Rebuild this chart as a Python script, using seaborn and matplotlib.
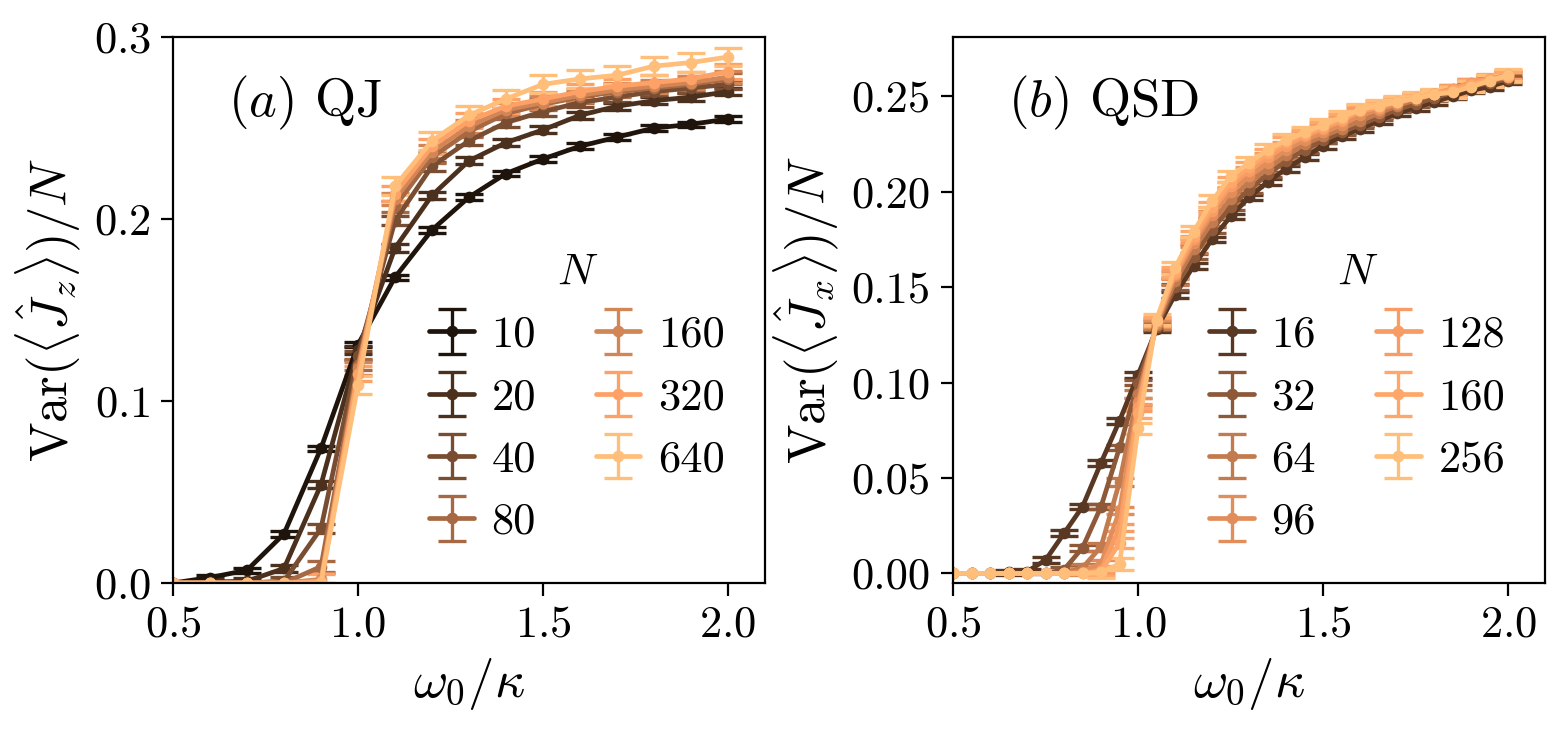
import numpy as np
import seaborn as sns
import matplotlib.pyplot as plt

# omega_0 / kappa grids
x_qj = [0.5, 0.6, 0.7, 0.8, 0.9, 1.0, 1.1, 1.2, 1.3, 1.4, 1.5, 1.6, 1.7, 1.8, 1.9, 2.0]
x_qsd = [0.5, 0.55, 0.6, 0.65, 0.7, 0.75, 0.8, 0.85, 0.9, 0.95, 1.0, 1.05, 1.1, 1.15, 1.2, 1.25,
         1.3, 1.35, 1.4, 1.45, 1.5, 1.55, 1.6, 1.65, 1.7, 1.75, 1.8, 1.85, 1.9, 1.95, 2.0]

# (a) quantum jumps
n_qj = [10, 20, 40, 80, 160, 320, 640]
var_qj_10 = [0, 0.003, 0.007, 0.027, 0.074, 0.131, 0.168, 0.194, 0.212, 0.225, 0.233, 0.240, 0.245, 0.250, 0.252, 0.255]
var_qj_20 = [0, 0.0005, 0.001, 0.008, 0.054, 0.128, 0.184, 0.213, 0.232, 0.242, 0.249, 0.257, 0.262, 0.265, 0.267, 0.270]
var_qj_40 = [0, 0, 0, 0.001, 0.030, 0.125, 0.199, 0.229, 0.243, 0.253, 0.259, 0.264, 0.267, 0.270, 0.272, 0.274]
var_qj_80 = [0, 0, 0, 0, 0.009, 0.120, 0.207, 0.234, 0.248, 0.258, 0.263, 0.267, 0.270, 0.272, 0.274, 0.277]
var_qj_160 = [0, 0, 0, 0, 0.002, 0.118, 0.211, 0.237, 0.251, 0.260, 0.264, 0.268, 0.271, 0.273, 0.275, 0.278]
var_qj_320 = [0, 0, 0, 0, 0.001, 0.115, 0.214, 0.240, 0.254, 0.262, 0.266, 0.270, 0.273, 0.275, 0.277, 0.281]
var_qj_640 = [0, 0, 0, 0, 0, 0.109, 0.218, 0.243, 0.257, 0.266, 0.274, 0.277, 0.279, 0.284, 0.286, 0.289]
err_qj = [0.0015, 0.002, 0.0025, 0.003, 0.0035, 0.004, 0.005]

# (b) quantum state diffusion
n_qsd = [16, 32, 64, 96, 128, 160, 256]
var_qsd_16 = [0, 0, 0, 0.0005, 0.001, 0.007, 0.021, 0.035, 0.058, 0.080, 0.104, 0.128, 0.146, 0.161, 0.175, 0.187,
              0.197, 0.205, 0.212, 0.218, 0.224, 0.229, 0.233, 0.237, 0.241, 0.244, 0.247, 0.250, 0.253, 0.255, 0.258]
var_qsd_32 = [0, 0, 0, 0, 0, 0, 0.002, 0.0135, 0.035, 0.066, 0.100, 0.129, 0.150, 0.166, 0.180, 0.192,
              0.201, 0.209, 0.216, 0.222, 0.227, 0.231, 0.235, 0.239, 0.243, 0.246, 0.249, 0.252, 0.255, 0.257, 0.259]
var_qsd_64 = [0, 0, 0, 0, 0, 0, 0, 0.003, 0.014, 0.048, 0.094, 0.130, 0.153, 0.170, 0.184, 0.196,
              0.205, 0.212, 0.219, 0.225, 0.229, 0.233, 0.237, 0.241, 0.245, 0.248, 0.251, 0.253, 0.256, 0.258, 0.260]
var_qsd_96 = [0, 0, 0, 0, 0, 0, 0, 0.001, 0.005, 0.033, 0.090, 0.131, 0.156, 0.173, 0.188, 0.200,
              0.208, 0.215, 0.222, 0.227, 0.231, 0.235, 0.240, 0.243, 0.246, 0.249, 0.251, 0.254, 0.257, 0.259, 0.261]
var_qsd_128 = [0, 0, 0, 0, 0, 0, 0, 0, 0.002, 0.024, 0.087, 0.132, 0.157, 0.175, 0.190, 0.203,
               0.211, 0.218, 0.224, 0.229, 0.233, 0.237, 0.242, 0.244, 0.247, 0.249, 0.251, 0.254, 0.257, 0.259, 0.261]
var_qsd_160 = [0, 0, 0, 0, 0, 0, 0, 0, 0.001, 0.016, 0.084, 0.132, 0.158, 0.177, 0.192, 0.205,
               0.213, 0.220, 0.226, 0.230, 0.234, 0.238, 0.243, 0.245, 0.247, 0.249, 0.251, 0.253, 0.256, 0.259, 0.260]
var_qsd_256 = [0, 0, 0, 0, 0, 0, 0, 0, 0.0005, 0.005, 0.076, 0.133, 0.160, 0.179, 0.195, 0.208,
               0.215, 0.222, 0.227, 0.231, 0.235, 0.239, 0.243, 0.245, 0.247, 0.249, 0.251, 0.252, 0.255, 0.258, 0.261]
err_qsd = [0.0015, 0.0015, 0.002, 0.002, 0.002, 0.0025, 0.003]

sns.set_style("ticks")
plt.rcParams['font.family'] = 'serif'
plt.rcParams['font.serif'] = ['cmr10', 'DejaVu Serif']
plt.rcParams['mathtext.fontset'] = 'cm'
plt.rcParams['axes.formatter.use_mathtext'] = True
plt.rcParams['axes.unicode_minus'] = False
for key in ['text.color', 'axes.labelcolor', 'xtick.color', 'ytick.color', 'axes.edgecolor']:
    plt.rcParams[key] = 'black'

copper = sns.color_palette("copper", as_cmap=True)
colors_qj = [copper(v) for v in np.linspace(0.1, 0.95, 7)]
colors_qsd = [copper(0.28 + (np.log2(n) - 4) * 0.1675) for n in n_qsd]

fig, axes = plt.subplots(1, 2, figsize=(7.82, 3.645), dpi=200)
fig.subplots_adjust(left=0.1106, right=0.9879, bottom=0.2003, top=0.9492, wspace=0.3176)

FS = 16


def draw_panel(ax, x, series, ns, errs, colors):
    for y, n, e, c in zip(series, ns, errs, colors):
        y = np.asarray(y)
        # no visible bars where the variance is exactly zero
        yerr = np.where(y > 0, e, 0.0)
        ax.errorbar(x, y, yerr=yerr, color=c, marker='o', ms=3.2, lw=1.7,
                    elinewidth=1.2, capsize=5, capthick=1.2, label=str(n))
    ax.set_xlim(0.5, 2.1)
    ax.set_xticks([0.5, 1.0, 1.5, 2.0])
    ax.set_xlabel(r'$\omega_0/\kappa$', fontsize=19)
    ax.tick_params(labelsize=FS, length=4.5)
    leg = ax.legend(title=r'$N$', ncol=2, frameon=False, fontsize=FS, title_fontsize=FS,
                    loc='lower right', bbox_to_anchor=(1.0, 0.0), handlelength=1.0,
                    handletextpad=0.4, columnspacing=1.35, labelspacing=0.5)
    return leg


draw_panel(axes[0], x_qj,
           [var_qj_10, var_qj_20, var_qj_40, var_qj_80, var_qj_160, var_qj_320, var_qj_640],
           n_qj, err_qj, colors_qj)
axes[0].set_ylim(0, 0.3)
axes[0].set_yticks([0.0, 0.1, 0.2, 0.3])
axes[0].set_ylabel(r'$\mathrm{Var}(\langle \hat{J}_z \rangle)/N$', fontsize=19)
axes[0].text(0.093, 0.88, r'$(a)$ QJ', transform=axes[0].transAxes, fontsize=19, va='center')

draw_panel(axes[1], x_qsd,
           [var_qsd_16, var_qsd_32, var_qsd_64, var_qsd_96, var_qsd_128, var_qsd_160, var_qsd_256],
           n_qsd, err_qsd, colors_qsd)
axes[1].set_ylim(-0.005, 0.281)
axes[1].set_yticks([0.0, 0.05, 0.10, 0.15, 0.20, 0.25])
axes[1].set_yticklabels(['0.00', '0.05', '0.10', '0.15', '0.20', '0.25'])
axes[1].set_ylabel(r'$\mathrm{Var}(\langle \hat{J}_x \rangle)/N$', fontsize=19)
axes[1].text(0.093, 0.88, r'$(b)$ QSD', transform=axes[1].transAxes, fontsize=19, va='center')

fig.savefig('out.png', dpi=200)
